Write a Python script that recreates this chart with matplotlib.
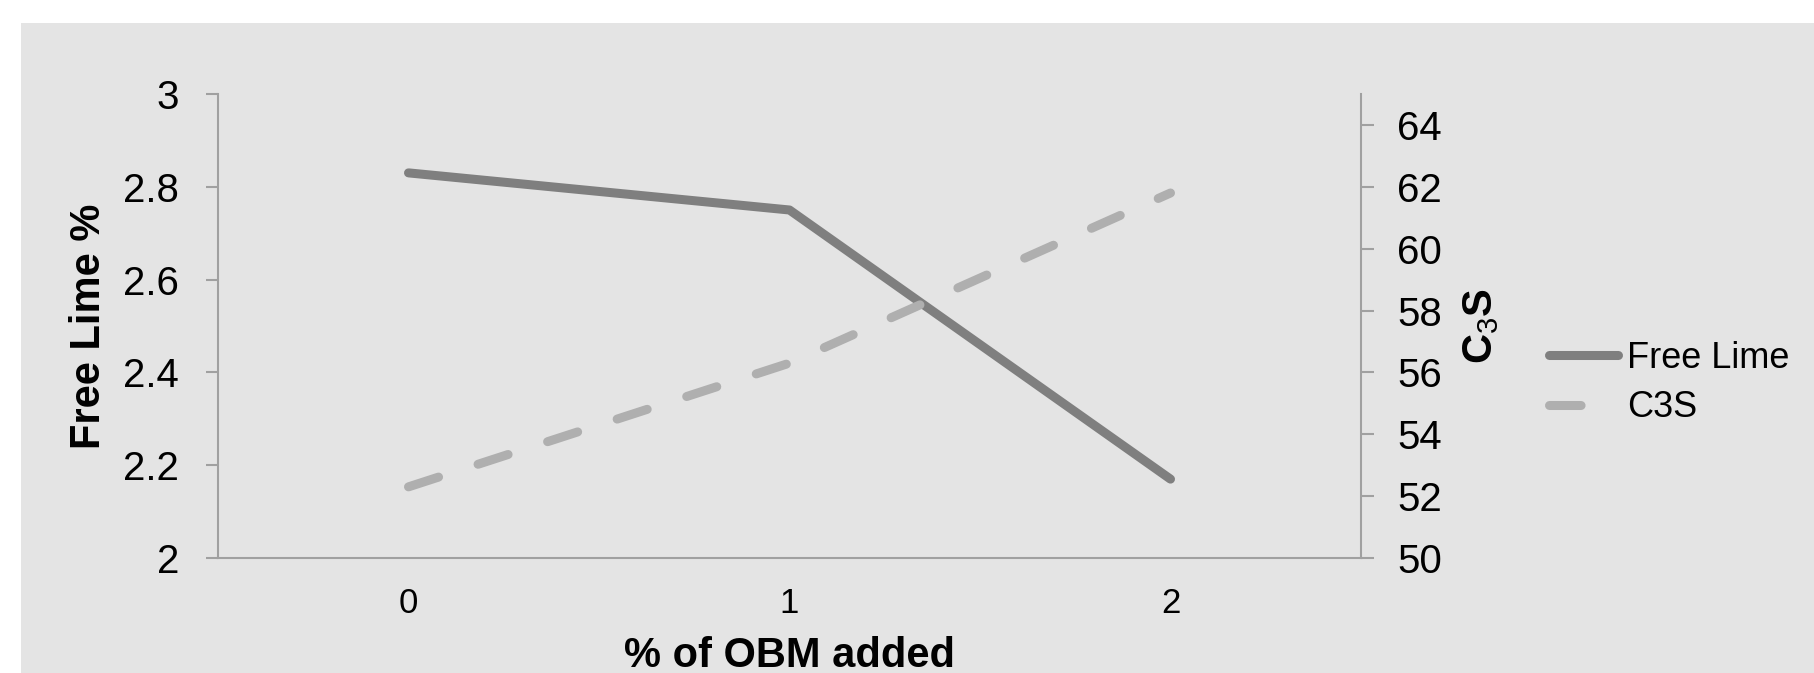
import numpy as np
import matplotlib
matplotlib.use("Agg")
import matplotlib.pyplot as plt
from matplotlib.patches import Rectangle

plt.rcParams['font.family'] = ['Liberation Sans', 'DejaVu Sans']
plt.rcParams['mathtext.fontset'] = 'custom'
plt.rcParams['mathtext.rm'] = 'Liberation Sans'
plt.rcParams['mathtext.bf'] = 'Liberation Sans:bold'

# data
obm_added = ['0', '1', '2']
free_lime = [2.83, 2.75, 2.17]
c3s = [52.3, 56.3, 61.8]

W, H = 1815, 673
fig = plt.figure(figsize=(W / 100, H / 100), dpi=100, facecolor='white')
fig.patches.append(Rectangle((21 / W, 0), 1, 1 - 23 / H, transform=fig.transFigure,
                             facecolor='#e4e4e4', edgecolor='none', zorder=-10))

ax = fig.add_axes([218 / W, 1 - 558 / H, (1361 - 218) / W, (558 - 94) / H])
ax.set_facecolor('none')
ax2 = ax.twinx()

x = np.arange(len(obm_added))
tick_fs = 29
lab_fs = 30
spine_col = '#a0a0a0'

l1, = ax.plot(x, free_lime, color='#7f7f7f', lw=6.5, solid_capstyle='round',
              solid_joinstyle='round', label='Free Lime')
l2, = ax2.plot(x, c3s, color='#afafaf', lw=6.5, dashes=(3.5, 4.6),
               dash_capstyle='round', label='C3S')

ax.set_xlim(-0.5, 2.5)
ax.set_ylim(2, 3)
ax.set_yticks(np.arange(2, 3.01, 0.2))
ax.set_yticklabels(['2', '2.2', '2.4', '2.6', '2.8', '3'])
ax2.set_ylim(50, 65)
ax2.set_yticks(np.arange(50, 65, 2))
ax.set_xticks(x)
ax.set_xticklabels(obm_added)

for a in (ax, ax2):
    for s in a.spines.values():
        s.set_visible(False)
        s.set_color(spine_col)
        s.set_linewidth(1.5)
ax.spines['left'].set_visible(True)
ax.spines['bottom'].set_visible(True)
ax2.spines['right'].set_visible(True)

ax.tick_params(axis='y', length=9, width=1.5, color=spine_col, labelsize=tick_fs, pad=19)
ax2.tick_params(axis='y', length=9, width=1.5, color=spine_col, labelsize=tick_fs, pad=17)
ax.tick_params(axis='x', length=0, labelsize=25, pad=21)

# axis titles placed where the reference has them
fig.text(89 / W, 1 - 326 / H, 'Free Lime %', rotation=90, ha='center', va='center',
         fontsize=lab_fs, fontweight='bold')
fig.text(1481 / W, 1 - 326 / H, r'C$_3$S', rotation=90, ha='center', va='center',
         fontsize=lab_fs, fontweight='bold')
fig.text(790 / W, 1 - 667 / H, '% of OBM added', ha='center', va='baseline',
         fontsize=lab_fs, fontweight='bold')

fig.legend(handles=[l1, l2], loc='center left', bbox_to_anchor=(1549 / W, 1 - 383 / H),
           frameon=False, fontsize=26, handlelength=1.9, handletextpad=0.25,
           borderpad=0, borderaxespad=0, labelspacing=0.4)

fig.savefig('out.png', dpi=100, facecolor='white')
